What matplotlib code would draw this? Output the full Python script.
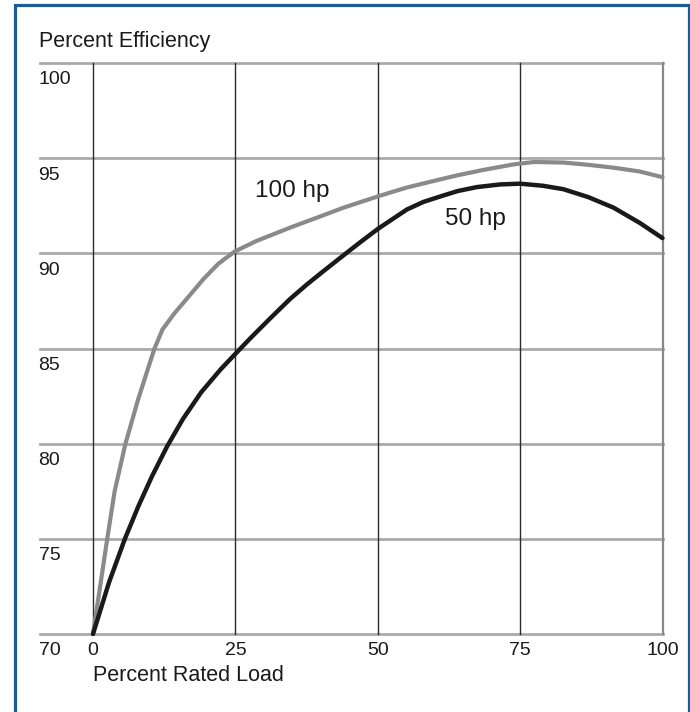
import matplotlib
matplotlib.use("Agg")
import matplotlib.pyplot as plt
from matplotlib.patches import Rectangle

plt.rcParams['font.family'] = ['Liberation Sans', 'DejaVu Sans']

# Percent rated load vs. percent efficiency
load_100hp = [0, 1.3, 2.5, 3.8, 5.7, 7.9, 9.5, 10.8, 12.2, 14.3, 17.0, 19.4, 22.0,
              24.9, 28.7, 34.6, 40.0, 44.0, 50.1, 55.0, 60.9, 64.0, 68.5, 74.0, 77.5,
              82.6, 87.0, 91.4, 96.0, 100]
eff_100hp = [70, 72.6, 75.0, 77.5, 80.0, 82.3, 83.8, 85.0, 86.0, 86.85, 87.8, 88.65, 89.45,
             90.1, 90.65, 91.35, 91.95, 92.4, 93.0, 93.45, 93.88, 94.1, 94.38, 94.68, 94.8,
             94.77, 94.65, 94.5, 94.3, 94.0]

load_50hp = [0, 2.8, 5.6, 7.95, 10.3, 13.0, 15.8, 19.0, 22.4, 25.1, 27.5, 31.0, 34.6,
             37.5, 40.4, 44.0, 47.0, 50.1, 55.1, 58.0, 60.9, 64.0, 67.4, 71.5, 75.0,
             79.0, 82.6, 87.0, 91.4, 96.0, 100]
eff_50hp = [70, 72.7, 75.0, 76.7, 78.25, 79.85, 81.3, 82.7, 83.9, 84.75, 85.5, 86.55, 87.6,
            88.35, 89.05, 89.9, 90.6, 91.3, 92.3, 92.7, 92.98, 93.27, 93.48, 93.62, 93.66,
            93.55, 93.37, 92.95, 92.4, 91.6, 90.8]

x_ticks = [0, 25, 50, 75, 100]
y_ticks = [70, 75, 80, 85, 90, 95, 100]

fig = plt.figure(figsize=(6.9, 7.12), dpi=100)
ax = fig.add_axes([93/690, 1 - 634/712, 569.5/690, 571/712])
ax.set_xlim(0, 100)
ax.set_ylim(70, 100)
ax.axis('off')

x_left = -53/5.695  # horizontal rules reach out to the y labels

# grid
for v in y_ticks:
    ax.plot([x_left, 100], [v, v], color='#aaaaaa', lw=2.0, clip_on=False, zorder=1)
for v in x_ticks[:-1]:
    ax.plot([v, v], [70, 100], color='#2a2a2a', lw=1.0, clip_on=False, zorder=1)
ax.plot([100, 100], [70, 100], color='#888888', lw=1.6, clip_on=False, zorder=1)

# curves
ax.plot(load_100hp, eff_100hp, color='#8a8a8a', lw=3.0, solid_joinstyle='round',
        solid_capstyle='round', clip_on=False, zorder=3)
ax.plot(load_50hp, eff_50hp, color='#1a1a1a', lw=3.2, solid_joinstyle='round',
        solid_capstyle='round', clip_on=False, zorder=4)

ax.text(34.9, 93.26, '100 hp', fontsize=17.5, color='#1a1a1a', ha='center', va='center')
ax.text(67.2, 91.8, '50 hp', fontsize=17.5, color='#1a1a1a', ha='center', va='center')

# tick labels
for v in y_ticks:
    ax.annotate(str(v), xy=(x_left, v), xytext=(-1, -6), textcoords='offset points',
                fontsize=14, color='#1a1a1a', ha='left', va='top', annotation_clip=False)
for v in x_ticks:
    ax.annotate(str(v), xy=(v, 70), xytext=(0, -6), textcoords='offset points',
                fontsize=14, color='#1a1a1a', ha='center', va='top', annotation_clip=False)

fig.text(39/690, 1 - 47/712, 'Percent Efficiency', fontsize=15.5, color='#1a1a1a',
         ha='left', va='baseline')
fig.text(93/690, 1 - 681/712, 'Percent Rated Load', fontsize=15.5, color='#1a1a1a',
         ha='left', va='baseline')

# blue frame
fig.patches.append(Rectangle((14.5/690, -0.05), 674/690, 1.05 - 4.7/712,
                             transform=fig.transFigure, fill=False,
                             edgecolor='#1d5b95', lw=2.3))

fig.savefig('out.png', dpi=100)
